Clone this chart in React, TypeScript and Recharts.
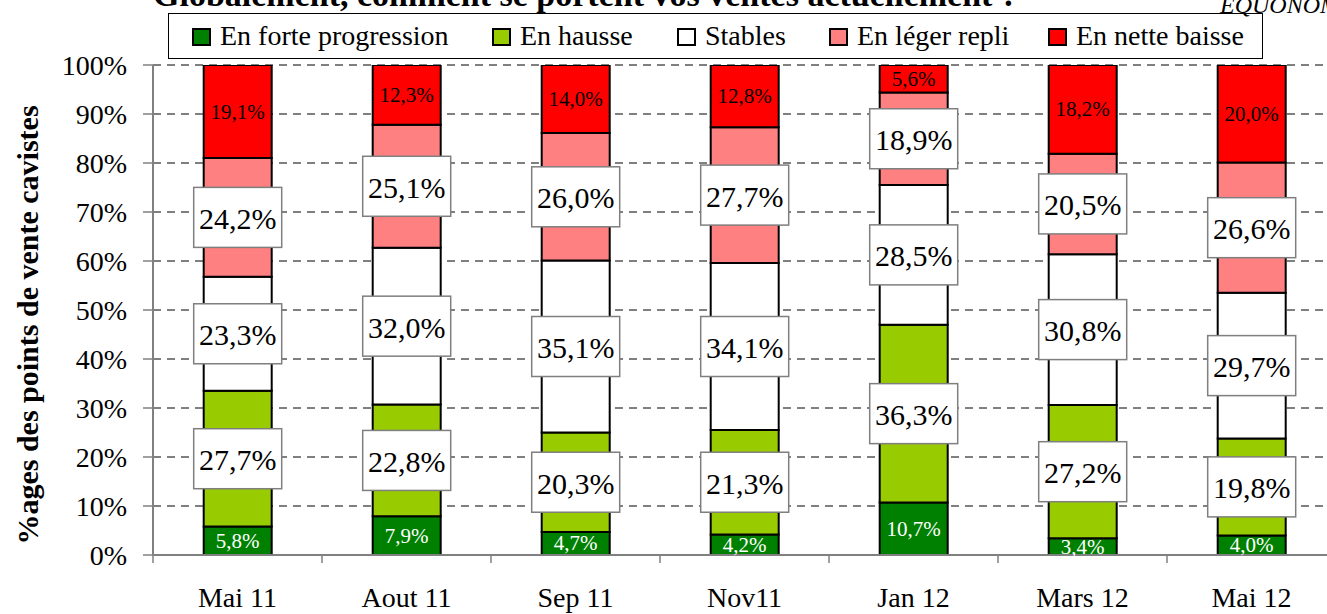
import React from 'react';
import { BarChart, Bar, XAxis, YAxis, CartesianGrid, Legend, LabelList } from 'recharts';

const categories = ['Mai 11', 'Aout 11', 'Sep 11', 'Nov11', 'Jan 12', 'Mars 12', 'Mai 12'];
const forteProgression = [5.8, 7.9, 4.7, 4.2, 10.7, 3.4, 4.0];
const hausse = [27.7, 22.8, 20.3, 21.3, 36.3, 27.2, 19.8];
const stables = [23.3, 32.0, 35.1, 34.1, 28.5, 30.8, 29.7];
const legerRepli = [24.2, 25.1, 26.0, 27.7, 18.9, 20.5, 26.6];
const netteBaisse = [19.1, 12.3, 14.0, 12.8, 5.6, 18.2, 20.0];
const yTicks = [0, 10, 20, 30, 40, 50, 60, 70, 80, 90, 100];

const seriesNames = ['En forte progression', 'En hausse', 'Stables', 'En léger repli', 'En nette baisse'];
const seriesKeys = ['forte', 'hausse', 'stables', 'leger', 'nette'];
const seriesColors = ['#008000', '#99CC00', '#FFFFFF', '#FF8080', '#FF0000'];
const seriesValues = [forteProgression, hausse, stables, legerRepli, netteBaisse];

const data = categories.map((c, i) => ({
  name: c,
  forte: forteProgression[i],
  hausse: hausse[i],
  stables: stables[i],
  leger: legerRepli[i],
  nette: netteBaisse[i],
}));

const FONT = 'Liberation Serif, Times New Roman, serif';
const W = 1340;
const H = 614;
const MARGIN = { top: 65, right: 4, bottom: 0, left: 0 };
const Y_W = 153;
const X_H = 59;
const PLOT_BOTTOM = H - MARGIN.bottom - X_H;
const PLOT_W = W - MARGIN.left - MARGIN.right - Y_W;
const BAND = PLOT_W / categories.length;

const fmt = (v: number) => v.toFixed(1).replace('.', ',') + '%';

const getRect = (props: any) => {
  const vb = props.viewBox || {};
  const x = vb.x ?? props.x;
  const y = vb.y ?? props.y;
  const width = vb.width ?? props.width;
  const height = vb.height ?? props.height;
  return { x: Number(x), y: Number(y), width: Number(width), height: Number(height) };
};

const getVal = (props: any, si: number) => {
  const idx = props.index;
  if (typeof idx === 'number' && seriesValues[si][idx] !== undefined) return seriesValues[si][idx];
  const v = props.value;
  if (Array.isArray(v)) return v[1] - v[0];
  return Number(v);
};

const makeSmallLabel = (si: number, color: string) => (props: any) => {
  const r = getRect(props);
  const cx = r.x + r.width / 2;
  const cy = r.y + r.height / 2;
  return (
    <text x={cx} y={cy} textAnchor="middle" dominantBaseline="central" fontSize={21} fontFamily={FONT} fill={color}>
      {fmt(getVal(props, si))}
    </text>
  );
};

const makeBoxLabel = (si: number) => (props: any) => {
  const r = getRect(props);
  const cx = r.x + r.width / 2;
  const cy = r.y + r.height / 2;
  const bw = 88;
  const bh = 60;
  return (
    <g>
      <rect x={cx - bw / 2} y={cy - bh / 2} width={bw} height={bh} fill="#FFFFFF" stroke="#7F7F7F" strokeWidth={1.5} />
      <text x={cx} y={cy + 1} textAnchor="middle" dominantBaseline="central" fontSize={30} fontFamily={FONT} fill="#000">
        {fmt(getVal(props, si))}
      </text>
    </g>
  );
};

const XTick = (props: any) => {
  const { x, payload } = props;
  const lx = x - BAND / 2;
  return (
    <g>
      <line x1={lx} x2={lx} y1={PLOT_BOTTOM} y2={PLOT_BOTTOM + 8} stroke="#808080" strokeWidth={1.5} />
      <text x={x} y={PLOT_BOTTOM + 52} textAnchor="middle" fontSize={28} fontFamily={FONT} fill="#000">
        {payload.value}
      </text>
    </g>
  );
};

const legendLefts = [24, 324, 509, 661, 880];

const renderLegend = () => (
  <div style={{ position: 'relative', height: 0, width: W }}>
    <div
      style={{
        position: 'absolute',
        left: 168,
        top: 13,
        width: 1095,
        height: 46,
        border: '1.5px solid #000',
        boxSizing: 'border-box',
        background: '#fff',
        fontFamily: FONT,
      }}
    >
      {seriesNames.map((n, i) => (
        <div
          key={n}
          style={{
            position: 'absolute',
            left: legendLefts[i] - 1,
            top: 0,
            height: 44,
            display: 'flex',
            alignItems: 'center',
            whiteSpace: 'nowrap',
          }}
        >
          <div
            style={{
              width: 19,
              height: 18,
              boxSizing: 'border-box',
              border: '2px solid #000',
              background: seriesColors[i],
              marginRight: 9,
              marginTop: 2,
            }}
          />
          <span style={{ fontSize: 28, lineHeight: '44px', color: '#000' }}>{n}</span>
        </div>
      ))}
    </div>
  </div>
);

const YLabel = () => {
  const cx = 27;
  const cy = 325;
  return (
    <text
      x={cx}
      y={cy}
      transform={`rotate(-90, ${cx}, ${cy})`}
      textAnchor="middle"
      dominantBaseline="central"
      fontSize={30}
      fontWeight="bold"
      fontFamily={FONT}
      fill="#000"
    >
      %ages des points de vente cavistes
    </text>
  );
};

export default function App() {
  return (
    <div style={{ position: 'absolute', left: 0, top: 0, width: 1327, height: 614, overflow: 'hidden', background: '#fff' }}>
      <BarChart width={W} height={H} data={data} margin={MARGIN} barCategoryGap="30%">
        <CartesianGrid horizontal vertical={false} stroke="#000" strokeDasharray="8 6" strokeWidth={1} />
        <XAxis
          dataKey="name"
          height={X_H}
          axisLine={{ stroke: '#808080', strokeWidth: 2 }}
          tickLine={false}
          tick={<XTick />}
          interval={0}
        />
        <YAxis
          width={Y_W}
          domain={[0, 100]}
          allowDataOverflow
          ticks={yTicks}
          interval={0}
          tickFormatter={(v: number) => `${v}%`}
          axisLine={{ stroke: '#808080', strokeWidth: 2 }}
          tickLine={{ stroke: '#808080', strokeWidth: 1.5 }}
          tickSize={10}
          tickMargin={16}
          tick={{ fontSize: 28, fill: '#000', fontFamily: FONT }}
          label={<YLabel />}
        />
        <Legend content={renderLegend} wrapperStyle={{ left: 0, top: 0, width: W, height: 0 }} />
        {seriesKeys.map((k, si) => (
          <Bar
            key={k}
            dataKey={k}
            name={seriesNames[si]}
            stackId="a"
            fill={seriesColors[si]}
            stroke="#000"
            strokeWidth={2}
            isAnimationActive={false}
          >
            <LabelList
              dataKey={k}
              content={
                si === 0
                  ? makeSmallLabel(si, '#FFFFFF')
                  : si === 4
                  ? makeSmallLabel(si, '#000000')
                  : makeBoxLabel(si)
              }
            />
          </Bar>
        ))}
      </BarChart>
      <svg
        width={1327}
        height={614}
        style={{ position: 'absolute', left: 0, top: 0, pointerEvents: 'none' }}
      >
        <text x={153} y={6} fontSize={34} fontWeight="bold" fontFamily={FONT} fill="#000">
          Globalement, comment se portent vos ventes actuellement ?
        </text>
        <text x={1220} y={13} fontSize={24} fontStyle="italic" fontFamily={FONT} fill="#000">
          EQUONOM
        </text>
      </svg>
    </div>
  );
}
